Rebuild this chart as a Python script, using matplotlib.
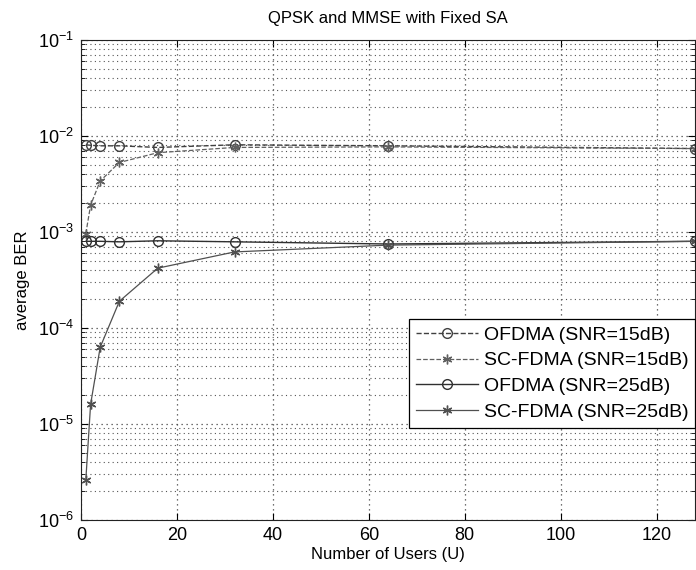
import matplotlib
matplotlib.use("Agg")
import matplotlib.pyplot as plt
from matplotlib.ticker import LogLocator, NullFormatter

plt.rcParams["font.family"] = ["Liberation Sans", "DejaVu Sans"]
plt.rcParams["mathtext.fontset"] = "custom"
plt.rcParams["mathtext.rm"] = "Liberation Sans"

users = [1, 2, 4, 8, 16, 32, 64, 128]
ofdma_15 = [8.1e-3, 8.0e-3, 7.9e-3, 7.9e-3, 7.6e-3, 8.1e-3, 7.9e-3, 7.4e-3]
scfdma_15 = [9.6e-4, 1.9e-3, 3.4e-3, 5.3e-3, 6.7e-3, 7.6e-3, 7.7e-3, 7.4e-3]
ofdma_25 = [8.0e-4, 8.0e-4, 8.0e-4, 7.9e-4, 8.1e-4, 7.9e-4, 7.5e-4, 8.0e-4]
scfdma_25 = [2.6e-6, 1.6e-5, 6.3e-5, 1.9e-4, 4.2e-4, 6.2e-4, 7.3e-4, 8.0e-4]

star = (6, 2, 0)  # asterisk like MATLAB '*'

fig = plt.figure(figsize=(6.96, 5.70), dpi=100)
ax = fig.add_axes((81 / 696, 50 / 570, 614 / 696, 480 / 570))

ax.semilogy(users, ofdma_15, "--", color="#404040", marker="o", mfc="none",
            ms=7, lw=1.0, mew=1.0, label="OFDMA (SNR=15dB)")
ax.semilogy(users, scfdma_15, "--", color="#606060", marker=star, ms=7,
            lw=0.9, mew=1.0, label="SC-FDMA (SNR=15dB)")
ax.semilogy(users, ofdma_25, "-", color="#303030", marker="o", mfc="none",
            ms=7, lw=1.0, mew=1.0, label="OFDMA (SNR=25dB)")
ax.semilogy(users, scfdma_25, "-", color="#505050", marker=star, ms=7,
            lw=0.9, mew=1.0, label="SC-FDMA (SNR=25dB)")

ax.set_xlim(0, 128)
ax.set_ylim(1e-6, 1e-1)
ax.set_xticks(range(0, 121, 20))
ax.yaxis.set_major_locator(LogLocator(base=10, numticks=10))
ax.yaxis.set_minor_locator(LogLocator(base=10, subs=range(2, 10), numticks=20))
ax.yaxis.set_minor_formatter(NullFormatter())

dots = (0, (1, 3))
ax.grid(True, which="major", ls=dots, color="#444444", lw=0.9)
ax.grid(True, which="minor", axis="y", ls=dots, color="#555555", lw=0.8)
ax.tick_params(which="both", direction="in", top=True, right=True, labelsize=13)
ax.tick_params(which="major", length=5, pad=5)
ax.tick_params(which="minor", length=3)
for spine in ax.spines.values():
    spine.set_color("#222222")

ax.set_title("QPSK and MMSE with Fixed SA", fontsize=12, pad=12)
ax.set_xlabel("Number of Users (U)", fontsize=12, labelpad=2)
ax.set_ylabel("average BER", fontsize=12, labelpad=6)

leg = ax.legend(loc="lower right", bbox_to_anchor=(1.0, 0.192), fontsize=14,
                fancybox=False, edgecolor="black", framealpha=1,
                handlelength=3.2, handletextpad=0.3, borderpad=0.35,
                labelspacing=0.42, borderaxespad=0)
leg.get_frame().set_linewidth(0.9)

fig.savefig("out.png", dpi=100)
